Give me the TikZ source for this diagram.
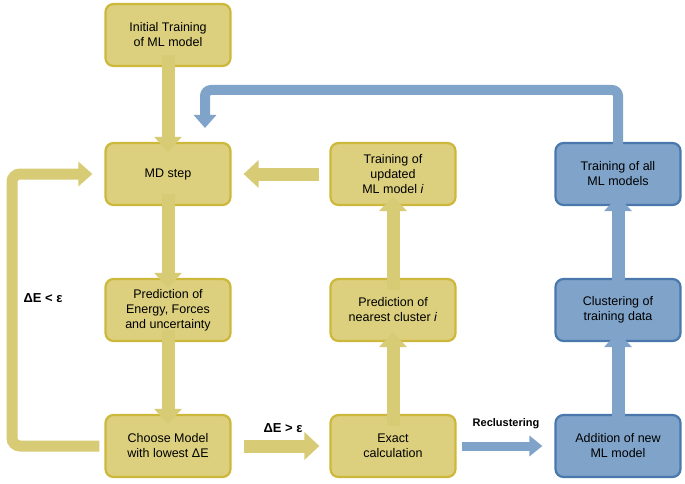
\documentclass[tikz,border=0pt]{standalone}
\usepackage{fontspec}
\setmainfont{Liberation Sans}
\usetikzlibrary{arrows.meta}
\definecolor{yf}{HTML}{DCD07E}
\definecolor{yb}{HTML}{CDB83C}
\definecolor{ya}{HTML}{D8CB76}
\definecolor{bf}{HTML}{7FA3C9}
\definecolor{bb}{HTML}{4A78AD}
\definecolor{ba}{HTML}{7FA3C9}
\begin{document}
\begin{tikzpicture}[x=1pt,y=-1pt,
  box/.style={draw=yb,fill=yf,line width=2.2pt,rounded corners=8pt,minimum width=125pt,minimum height=62pt,align=center,font=\fontsize{12.5}{15}\selectfont},
  bbox/.style={box,draw=bb,fill=bf},
  yarr/.style={draw=ya,line width=13pt,-{Triangle[length=15pt,width=27pt]}},
  barr/.style={draw=ba,line width=13pt,-{Triangle[length=15pt,width=27pt]}},
  lbl/.style={font=\bfseries\fontsize{13}{15}\selectfont}]
\useasboundingbox (0,0) rectangle (685,484);
\node[box] (init) at (168,35) {Initial Training\\of ML model};
\node[box] (md) at (168,174) {MD step};
\node[box] (pred) at (168,310) {Prediction of\\Energy, Forces\\and uncertainty};
\node[box] (choose) at (168,446) {Choose Model\\with lowest ΔE};
\node[box] (train) at (393,174) {Training of\\updated\\ML model \textit{i}};
\node[box] (near) at (393,310) {Prediction of\\nearest cluster \textit{i}};
\node[box] (exact) at (393,446) {Exact\\calculation};
\node[bbox] (all) at (618,174) {Training of all\\ML models};
\node[bbox] (clus) at (618,310) {Clustering of\\training data};
\node[bbox] (add) at (618,446) {Addition of new\\ML model};
\draw[yarr] ([yshift=12pt]init.south) -- ([yshift=-10pt]md.north);
\draw[yarr] ([yshift=12pt]md.south) -- ([yshift=-10pt]pred.north);
\draw[yarr] ([yshift=12pt]pred.south) -- ([yshift=-10pt]choose.north);
\draw[yarr] ([xshift=-10pt]train.west) -- ([xshift=12pt]md.east);
\draw[yarr] ([yshift=-12pt]exact.north) -- ([yshift=10pt]near.south);
\draw[yarr] ([yshift=-12pt]near.north) -- ([yshift=10pt]train.south);
\draw[yarr] ([xshift=12pt]choose.east) -- ([xshift=-10pt]exact.west);
\draw[barr,line width=9pt,-{Triangle[length=13pt,width=20pt]}] ([xshift=5pt]exact.east) -- ([xshift=-12pt]add.west);
\draw[barr] ([yshift=-12pt]add.north) -- ([yshift=10pt]clus.south);
\draw[barr] ([yshift=-12pt]clus.north) -- ([yshift=10pt]all.south);
\coordinate (b1) at (618,90);
\coordinate (b2) at (205,90);
\draw[barr,line width=10pt,rounded corners=6pt,-{Triangle[length=13pt,width=22pt]}] ([yshift=-14pt]all.north) -- (b1) -- (b2) -- (205,128);
\coordinate (l1) at (12,446);
\coordinate (l2) at (12,174);
\draw[yarr,line width=11pt,rounded corners=8pt,-{Triangle[length=14pt,width=24pt]}] ([xshift=-5pt]choose.west) -- (l1) -- (l2) -- ([xshift=-12pt]md.west);
\node[lbl] (lt) at (43,298) {ΔE < ε};
\node[lbl] (gt) at (283,428) {ΔE > ε};
\node[lbl,font=\bfseries\fontsize{11}{13}\selectfont] (rc) at (506,424) {Reclustering};
\end{tikzpicture}
\end{document}
